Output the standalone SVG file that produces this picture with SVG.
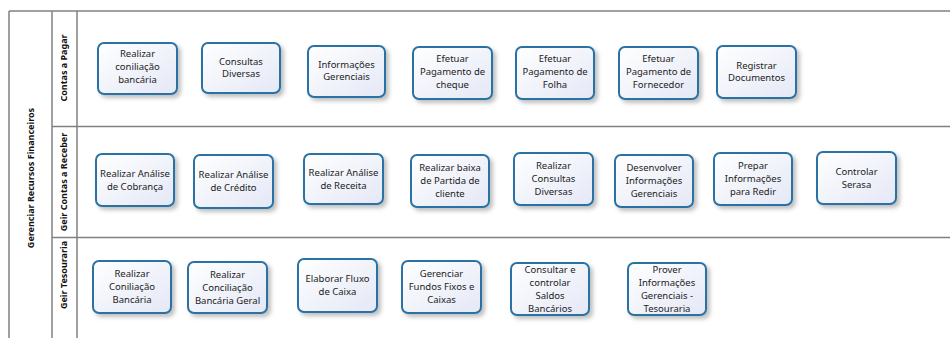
<svg xmlns="http://www.w3.org/2000/svg" width="950" height="338" viewBox="0 0 950 338">
<style>
.ln{stroke:#808080;stroke-width:1.5;fill:none}
.hd{font-family:"Noto Sans","Liberation Sans",sans-serif;font-size:9px;font-weight:bold;fill:#111;text-anchor:middle}
.box{fill:url(#g);stroke:#2c72a3;stroke-width:2;filter:url(#sh)}
.t{font-family:"Noto Sans","Liberation Sans",sans-serif;font-size:9.5px;fill:#222;text-anchor:middle}
</style>
<defs>
<linearGradient id="g" x1="0" y1="0" x2="1" y2="1">
<stop offset="0" stop-color="#ffffff"/>
<stop offset="1" stop-color="#e4e8f6"/>
</linearGradient>
<filter id="sh" x="-20%" y="-20%" width="150%" height="150%">
<feDropShadow dx="3" dy="3" stdDeviation="2" flood-color="#000" flood-opacity="0.25"/>
</filter>
</defs>
<rect width="950" height="338" fill="#fff"/>
<g id="pool">
<line class="ln" x1="9" y1="11" x2="950" y2="11"/>
<line class="ln" x1="9" y1="11" x2="9" y2="338"/>
<line class="ln" x1="52" y1="11" x2="52" y2="338"/>
<line class="ln" x1="77" y1="11" x2="77" y2="338"/>
<line class="ln" x1="52" y1="126.5" x2="950" y2="126.5"/>
<line class="ln" x1="52" y1="237.5" x2="950" y2="237.5"/>
<text class="hd" transform="translate(34,178) rotate(-90)">Gerenciar Recursos Financeiros</text>
<text class="hd" transform="translate(67,68) rotate(-90)">Contas a Pagar</text>
<text class="hd" transform="translate(67,182) rotate(-90)">Geir Contas a Receber</text>
<text class="hd" transform="translate(67,275) rotate(-90)">Geir Tesouraria</text>
</g>
<g id="connectors"></g>
<g id="n1"><rect class="box" x="98" y="43" width="79" height="51" rx="6"/><text class="t" x="137.5" y="57">Realizar</text><text class="t" x="137.5" y="70">coniliação</text><text class="t" x="137.5" y="83">bancária</text></g>
<g id="n2"><rect class="box" x="202" y="43" width="78" height="50" rx="6"/><text class="t" x="241" y="65">Consultas</text><text class="t" x="241" y="77">Diversas</text></g>
<g id="n3"><rect class="box" x="308" y="46" width="77" height="51" rx="6"/><text class="t" x="346.5" y="68">Informações</text><text class="t" x="346.5" y="80">Gerenciais</text></g>
<g id="n4"><rect class="box" x="413" y="47" width="79" height="52" rx="6"/><text class="t" x="452.5" y="62">Efetuar</text><text class="t" x="452.5" y="75">Pagamento de</text><text class="t" x="452.5" y="88">cheque</text></g>
<g id="n5"><rect class="box" x="516" y="47" width="78" height="52" rx="6"/><text class="t" x="555" y="62">Efetuar</text><text class="t" x="555" y="75">Pagamento de</text><text class="t" x="555" y="88">Folha</text></g>
<g id="n6"><rect class="box" x="619" y="47" width="79" height="52" rx="6"/><text class="t" x="658.5" y="62">Efetuar</text><text class="t" x="658.5" y="75">Pagamento de</text><text class="t" x="658.5" y="88">Fornecedor</text></g>
<g id="n7"><rect class="box" x="717" y="46" width="79" height="52" rx="6"/><text class="t" x="756.5" y="69">Registrar</text><text class="t" x="756.5" y="81">Documentos</text></g>
<g id="n8"><rect class="box" x="96" y="154" width="78" height="52" rx="6"/><text class="t" x="135" y="177">Realizar Análise</text><text class="t" x="135" y="190">de Cobrança</text></g>
<g id="n9"><rect class="box" x="194" y="155" width="79" height="53" rx="6"/><text class="t" x="233.5" y="178">Realizar Análise</text><text class="t" x="233.5" y="191">de Crédito</text></g>
<g id="n10"><rect class="box" x="304" y="154" width="79" height="50" rx="6"/><text class="t" x="343.5" y="176">Realizar Análise</text><text class="t" x="343.5" y="189">de Receita</text></g>
<g id="n11"><rect class="box" x="411" y="155" width="78" height="52" rx="6"/><text class="t" x="450" y="171">Realizar baixa</text><text class="t" x="450" y="184">de Partida de</text><text class="t" x="450" y="197">cliente</text></g>
<g id="n12"><rect class="box" x="514" y="153" width="79" height="52" rx="6"/><text class="t" x="553.5" y="169">Realizar</text><text class="t" x="553.5" y="182">Consultas</text><text class="t" x="553.5" y="195">Diversas</text></g>
<g id="n13"><rect class="box" x="615" y="155" width="78" height="52" rx="6"/><text class="t" x="654" y="171">Desenvolver</text><text class="t" x="654" y="184">Informações</text><text class="t" x="654" y="197">Gerenciais</text></g>
<g id="n14"><rect class="box" x="714" y="153" width="78" height="52" rx="6"/><text class="t" x="753" y="169">Prepar</text><text class="t" x="753" y="182">Informações</text><text class="t" x="753" y="195">para Redir</text></g>
<g id="n15"><rect class="box" x="817" y="152" width="79" height="52" rx="6"/><text class="t" x="856.5" y="175">Controlar</text><text class="t" x="856.5" y="188">Serasa</text></g>
<g id="n16"><rect class="box" x="93" y="261" width="78" height="52" rx="6"/><text class="t" x="132" y="277">Realizar</text><text class="t" x="132" y="290">Coniliação</text><text class="t" x="132" y="303">Bancária</text></g>
<g id="n17"><rect class="box" x="188" y="262" width="79" height="51" rx="6"/><text class="t" x="227.5" y="278">Realizar</text><text class="t" x="227.5" y="291">Conciliação</text><text class="t" x="227.5" y="304">Bancária Geral</text></g>
<g id="n18"><rect class="box" x="298" y="259" width="79" height="53" rx="6"/><text class="t" x="337.5" y="282">Elaborar Fluxo</text><text class="t" x="337.5" y="295">de Caixa</text></g>
<g id="n19"><rect class="box" x="402" y="261" width="79" height="52" rx="6"/><text class="t" x="441.5" y="277">Gerenciar</text><text class="t" x="441.5" y="290">Fundos Fixos e</text><text class="t" x="441.5" y="303">Caixas</text></g>
<g id="n20"><rect class="box" x="511" y="263" width="78" height="52" rx="6"/><text class="t" x="550" y="273">Consultar e</text><text class="t" x="550" y="286">controlar</text><text class="t" x="550" y="299">Saldos</text><text class="t" x="550" y="312">Bancários</text></g>
<g id="n21"><rect class="box" x="628" y="263" width="78" height="52" rx="6"/><text class="t" x="667" y="273">Prover</text><text class="t" x="667" y="286">Informações</text><text class="t" x="667" y="299">Gerenciais -</text><text class="t" x="667" y="312">Tesouraria</text></g>
</svg>
